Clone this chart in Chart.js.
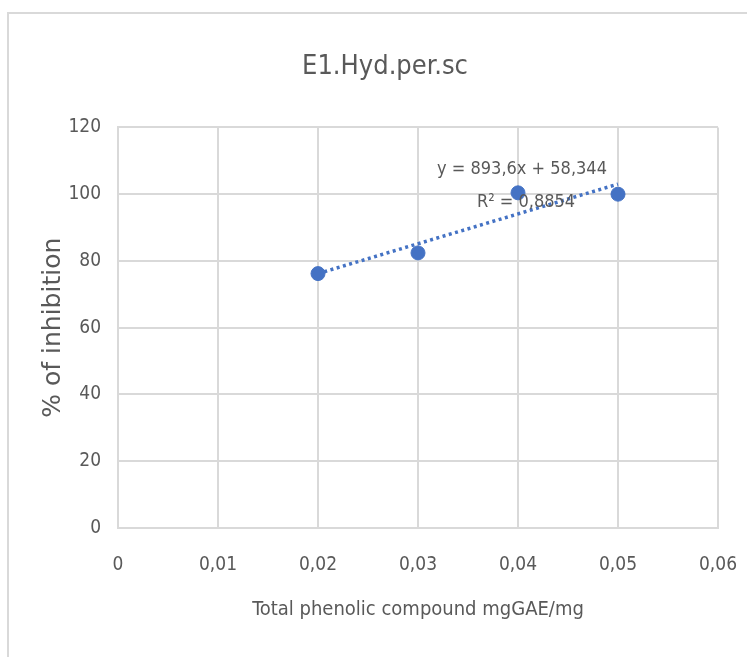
<!DOCTYPE html>
<html>
<head>
<meta charset="utf-8">
<script src="https://cdn.jsdelivr.net/npm/chart.js@4.4.1/dist/chart.umd.min.js"></script>
<style>
  html, body { margin: 0; padding: 0; background: #fff; overflow: hidden; }
  .frame { position: absolute; left: 7px; top: 12px; width: 800px; height: 700px; border: 2px solid #d9d9d9; }
  .wrap { position: absolute; left: 0; top: 0; width: 747px; height: 657px; }
</style>
</head>
<body>
<div class="frame"></div>
<div class="wrap"><canvas id="chart" width="747" height="657"></canvas></div>
<script>
const phenolic = [0.02, 0.03, 0.04, 0.05];
const inhibition = [76.2, 82.4, 100.4, 100];
const trendSlope = 893.6;
const trendIntercept = 58.344;
const trendRange = [0.02, 0.05];
const equationLines = ['y = 893,6x + 58,344', 'R² = 0,8854'];

const narrow = "'Liberation Sans Narrow', 'DejaVu Sans Condensed', sans-serif";
const grey = '#595959';
const blue = '#4472c4';

const fmt = v => v === 0 ? '0' : v.toFixed(2).replace('.', ',');

// trendline label, anchored to the data scales
const equationLabel = {
    id: 'equationLabel',
    afterDatasetsDraw(chart) {
        const { ctx, scales } = chart;
        const x = scales.x.getPixelForValue(0.0404);
        ctx.save();
        ctx.font = '18px ' + narrow;
        ctx.fillStyle = grey;
        ctx.textAlign = 'center';
        ctx.textBaseline = 'middle';
        ctx.fillText(equationLines[0], x, scales.y.getPixelForValue(107.4));
        ctx.fillText(equationLines[1], x + 4, scales.y.getPixelForValue(97.6));
        ctx.restore();
    }
};

new Chart(document.getElementById('chart'), {
    type: 'scatter',
    data: {
        datasets: [
            {
                label: 'E1',
                data: phenolic.map((x, i) => ({ x: x, y: inhibition[i] })),
                backgroundColor: blue,
                borderColor: blue,
                pointRadius: 7,
                pointHoverRadius: 7
            },
            {
                label: 'Linear',
                type: 'line',
                data: trendRange.map(x => ({ x: x, y: trendSlope * x + trendIntercept })),
                borderColor: blue,
                borderWidth: 3.5,
                borderDash: [3, 3.5],
                pointRadius: 0,
                fill: false
            }
        ]
    },
    options: {
        responsive: false,
        animation: false,
        layout: { padding: { left: 52, right: 29, top: 0, bottom: 0 } },
        plugins: {
            legend: { display: false },
            tooltip: { enabled: false },
            title: {
                display: true,
                text: 'E1.Hyd.per.sc',
                color: grey,
                font: { family: narrow, size: 27, weight: 'normal' },
                padding: { top: 51, bottom: 44 }
            }
        },
        scales: {
            x: {
                type: 'linear',
                min: 0,
                max: 0.06,
                border: { color: '#d9d9d9', width: 2 },
                grid: { color: '#d9d9d9', lineWidth: 2, drawTicks: false },
                ticks: {
                    stepSize: 0.01,
                    color: grey,
                    padding: 26,
                    font: { family: narrow, size: 19 },
                    callback: fmt
                },
                title: {
                    display: true,
                    text: 'Total phenolic compound mgGAE/mg',
                    color: grey,
                    font: { family: narrow, size: 20 },
                    padding: { top: 0, bottom: 35 }
                },
                afterFit(scale) {
                    scale.height = 129;
                    scale.paddingLeft = 0;
                    scale.paddingRight = 0;
                }
            },
            y: {
                min: 0,
                max: 120,
                border: { color: '#d9d9d9', width: 2 },
                grid: { color: '#d9d9d9', lineWidth: 2, drawTicks: false },
                ticks: {
                    stepSize: 20,
                    color: grey,
                    padding: 17,
                    font: { family: narrow, size: 19 }
                },
                title: {
                    display: true,
                    text: '% of inhibition',
                    color: grey,
                    font: { family: "'DejaVu Sans', sans-serif", size: 25 },
                    padding: { top: -14, bottom: 0 }
                },
                afterFit(scale) { scale.width = 66; }
            }
        }
    },
    plugins: [equationLabel]
});
</script>
</body>
</html>
